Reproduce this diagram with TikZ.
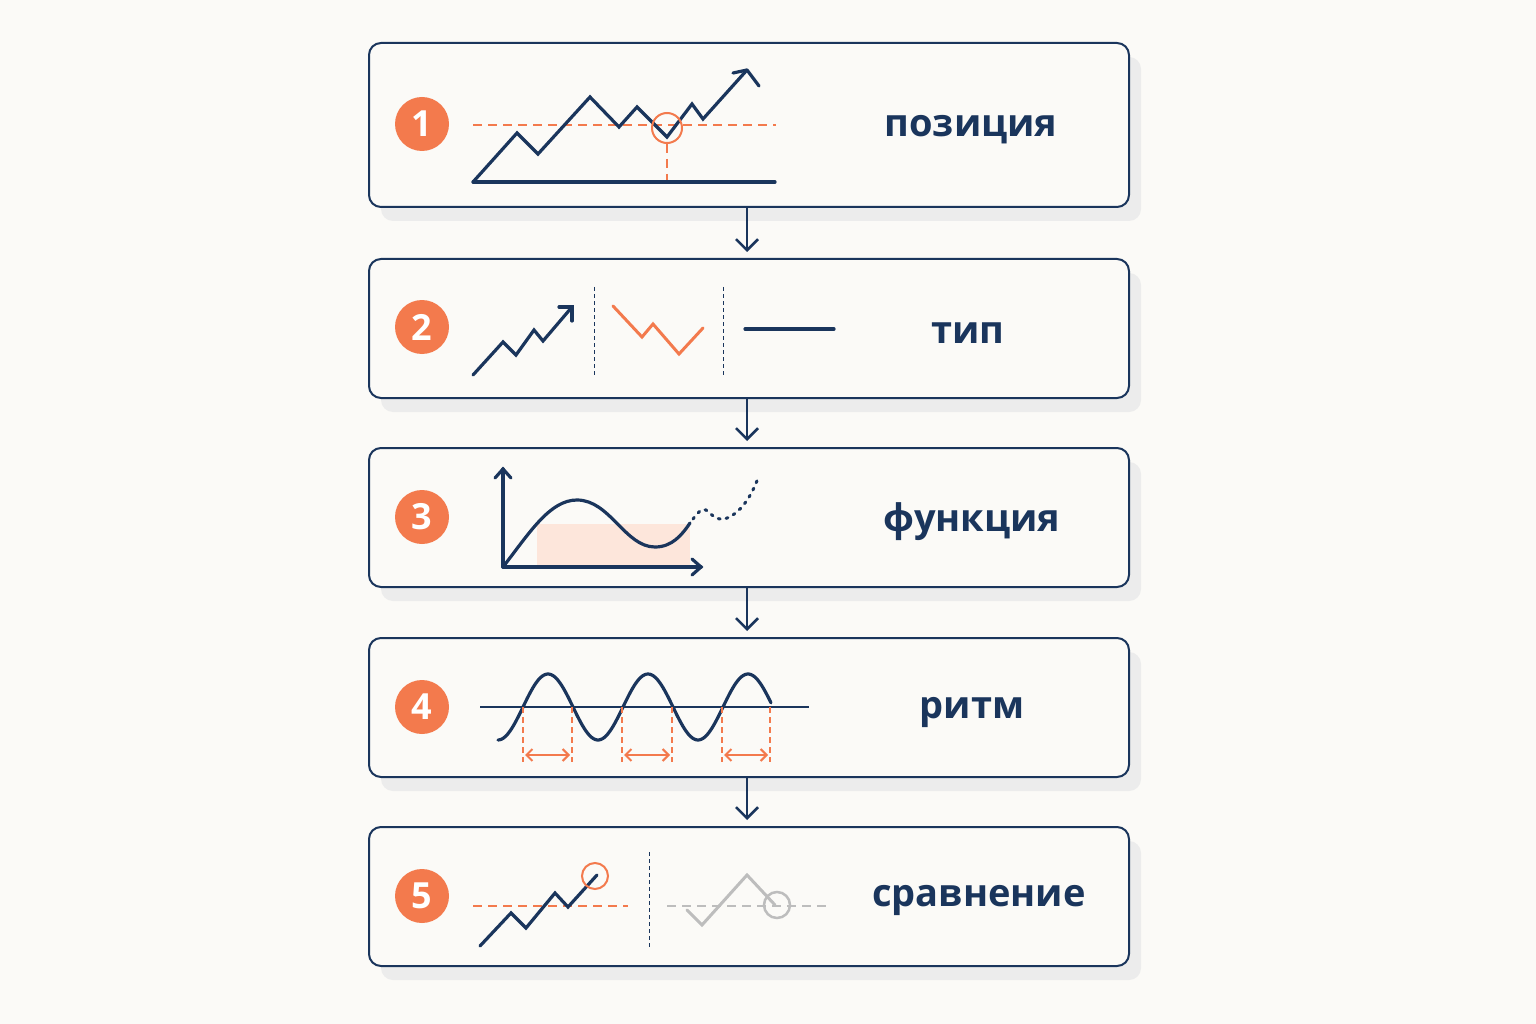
\documentclass[tikz,border=0pt]{standalone}
\usepackage{fontspec}
\setmainfont{Open Sans}
\usetikzlibrary{arrows.meta,shadows}
\definecolor{navy}{HTML}{1A355C}
\definecolor{orng}{HTML}{F37A4D}
\definecolor{bgc}{HTML}{FBFAF7}
\definecolor{shd}{HTML}{ECECEC}
\definecolor{pinkf}{HTML}{FDE6DB}
\definecolor{grayl}{HTML}{BDBDBD}
\begin{document}
\begin{tikzpicture}[x=1pt,y=-1pt,
  stepbox/.style={draw=navy, line width=2pt, rounded corners=12pt, fill=bgc,
    minimum width=760pt, inner sep=0pt,
    drop shadow={shadow xshift=12pt, shadow yshift=-14pt, fill=shd, opacity=1}},
  numc/.style={circle, fill=orng, minimum size=54pt, inner sep=0pt, text=white,
    font=\fontsize{36}{36}\selectfont\bfseries},
  lab/.style={text=navy, font=\fontsize{38}{38}\selectfont\bfseries, inner sep=0pt},
  flow/.style={draw=navy, line width=2.5pt, -{Straight Barb[length=11pt,width=22pt,line width=2.5pt]}},
  chart/.style={draw=navy, line width=3.2pt, line cap=round, line join=miter},
  odash/.style={draw=orng, line width=2pt, dash pattern=on 9pt off 6pt},
  vdash/.style={draw=navy, line width=1pt, dash pattern=on 4pt off 3pt},
]
\fill[bgc] (0,0) rectangle (1536,1024);
\useasboundingbox (0,0) rectangle (1536,1024);

% boxes
\node[stepbox, minimum height=164pt] (box1) at (749,125) {};
\node[stepbox, minimum height=139pt] (box2) at (749,328.5) {};
\node[stepbox, minimum height=139pt] (box3) at (749,517.5) {};
\node[stepbox, minimum height=139pt] (box4) at (749,707.5) {};
\node[stepbox, minimum height=139pt] (box5) at (749,896.5) {};

% flow arrows
\draw[flow] ([xshift=-2pt]box1.south) -- ([xshift=-2pt,yshift=6pt]box2.north);
\draw[flow] ([xshift=-2pt]box2.south) -- ([xshift=-2pt,yshift=6pt]box3.north);
\draw[flow] ([xshift=-2pt]box3.south) -- ([xshift=-2pt,yshift=6pt]box4.north);
\draw[flow] ([xshift=-2pt]box4.south) -- ([xshift=-2pt,yshift=6pt]box5.north);

% numbers
\node[numc] (n1) at (422,124) {1};
\node[numc] (n2) at (422,327) {2};
\node[numc] (n3) at (422,517) {3};
\node[numc] (n4) at (422,707) {4};
\node[numc] (n5) at (422,896) {5};

% labels
\node[lab] (l1) at (971,130) {позиция};
\node[lab] (l2) at (968,333) {тип};
\node[lab] (l3) at (972,522) {функция};
\node[lab] (l4) at (972,712) {ритм};
\node[lab] (l5) at (979,900) {сравнение};

% ---- icon 1
\draw[odash] (473,125) -- (776,125);
\draw[odash] (667,144) -- (667,182);
\draw[chart] (473,182) -- (775,182);
\draw[chart] (473,182) -- (517,133) -- (538,154) -- (590,97) -- (619,127) -- (637,107)
  -- (667,137) -- (692,104) -- (703,119) -- (747,70);
\draw[chart, line join=round] (733,73) -- (747,70) -- (759,86);
\draw[orng, line width=2pt] (667,128) circle (15pt);

% ---- icon 2
\draw[chart] (473,375) -- (503,342) -- (516,355) -- (534,330) -- (543,341) -- (572,307);
\draw[chart] (559,307) -- (572,307) -- (572,321);
\draw[vdash] (594,287) -- (594,376);
\draw[vdash] (723,287) -- (723,376);
\draw[orng, line width=3pt, line cap=round] (613,306) -- (642,337) -- (653,324) -- (679,354) -- (703,328);
\draw[chart] (745,329) -- (834,329);

% ---- icon 3
\fill[pinkf] (537,524) rectangle (690,567);
\draw[chart] (503,567) -- (503,469);
\draw[chart] (495,478) -- (503,469) -- (511,478);
\draw[chart] (503,567) -- (701,567);
\draw[chart] (692,559) -- (701,567) -- (692,575);
\draw[navy, line width=3.2pt, line cap=round] (503,567) .. controls (530,532) and (550,500) .. (577,500)
  .. controls (610,500) and (625,547) .. (655,547) .. controls (672,547) and (682,535) .. (690,523);
\draw[navy, line width=3pt, line cap=round, dash pattern=on 2pt off 6pt]
  (693,519) .. controls (698,512) and (702,508) .. (706,510) .. controls (712,515) and (716,520) .. (724,519)
  .. controls (740,515) and (752,495) .. (758,478);

% ---- icon 4
\draw[navy, line width=1.2pt] (480,707) -- (809,707);
\draw[navy, line width=3.2pt, line cap=round] plot[domain=498:771, samples=150, smooth] (\x, {707-33*sin(3.6*(\x-523))});
\foreach \xx in {523,572,622,672,722,770}
  \draw[orng, line width=1.3pt, dash pattern=on 6pt off 4pt] (\xx,707) -- (\xx,762);
\foreach \xa/\xb in {523/572,622/672,722/770}
  \draw[orng, line width=2pt, {Straight Barb[length=6pt,width=12pt]}-{Straight Barb[length=6pt,width=12pt]}] (\xa+2,755) -- (\xb-2,755);

% ---- icon 5
\draw[odash] (473,906) -- (628,906);
\draw[chart] (480,946) -- (511,913) -- (526,928) -- (555,893) -- (568,907) -- (597,875);
\draw[orng, line width=2pt] (595,876) circle (13pt);
\draw[vdash] (649,852) -- (649,948);
\draw[grayl, line width=2pt, dash pattern=on 9pt off 6pt] (667,906) -- (829,906);
\draw[grayl, line width=3pt, line cap=round] (687,910) -- (702,925) -- (747,875) -- (775,905);
\draw[grayl, line width=2.5pt] (777,905) circle (13pt);
\end{tikzpicture}
\end{document}
